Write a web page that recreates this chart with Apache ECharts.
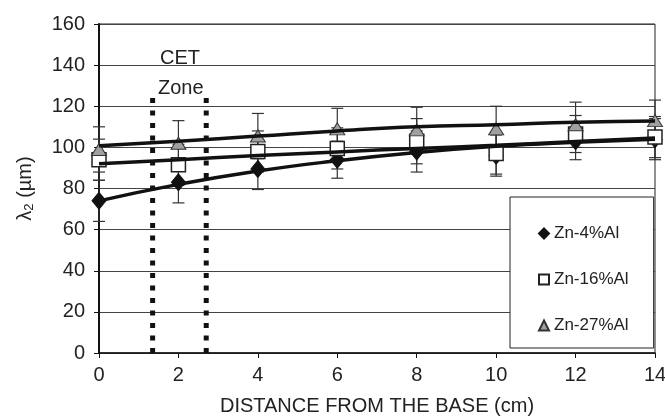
<!DOCTYPE html>
<html>
<head>
<meta charset="utf-8">
<script src="https://cdn.jsdelivr.net/npm/echarts@6/dist/echarts.min.js"></script>
<style>
  html, body { margin: 0; padding: 0; background: #fff; }
  #chart { width: 665px; height: 419px; }
</style>
</head>
<body>
<div id="chart"></div>
<script>
// distance from base (cm)
const distances = [0, 2, 4, 6, 8, 10, 12, 14]

// measured lambda2 (um) and error bars
const zn4 = [74, 83, 89.5, 94, 98, 96, 103, 104]
const zn4Err = [10, 10, 10, 9, 10, 10, 9, 10]
const zn16 = [94, 91.5, 98, 99.5, 103, 97, 106.5, 105]
const zn16Err = [10, 10, 10, 10, 11, 10, 9, 10]
const zn27 = [99, 102, 105.5, 109, 108.5, 109, 111, 113]
const zn27Err = [11, 11, 11, 10, 11, 11, 11, 10]

// trend lines
const trend4 = [74, 82, 88.5, 93.5, 97.5, 100.5, 102.5, 104]
const trend16 = [92, 94, 96, 97.8, 99.5, 101, 102.8, 104.5]
const trend27 = [100.8, 103, 105.5, 108, 110, 111, 112.2, 112.8]

// CET zone limits
const cetZone = [1.35, 2.7]
const cetTop = 125

const FONT = 'Liberation Sans, Arial, sans-serif'

const chart = echarts.init(document.getElementById('chart'))

function errorSeries(vals, errs) {
  return {
    type: 'custom',
    z: 1,
    clip: false,
    silent: true,
    renderItem(params, api) {
      const x = api.value(0)
      const y = api.value(1)
      const e = api.value(2)
      const top = api.coord([x, y + e])
      const bot = api.coord([x, y - e])
      const half = 6
      const style = { stroke: '#333', lineWidth: 1.2 }
      return {
        type: 'group',
        children: [
          { type: 'line', shape: { x1: top[0], y1: top[1], x2: bot[0], y2: bot[1] }, style },
          { type: 'line', shape: { x1: top[0] - half, y1: top[1], x2: top[0] + half, y2: top[1] }, style },
          { type: 'line', shape: { x1: bot[0] - half, y1: bot[1], x2: bot[0] + half, y2: bot[1] }, style }
        ]
      }
    },
    data: distances.map((d, i) => [d, vals[i], errs[i]])
  }
}

function trendSeries(vals) {
  return {
    type: 'line',
    z: 4,
    smooth: true,
    showSymbol: false,
    silent: true,
    lineStyle: { color: '#111', width: 3.5 },
    data: distances.map((d, i) => [d, vals[i]])
  }
}

function cetLine(x) {
  return {
    type: 'line',
    z: 3,
    showSymbol: false,
    silent: true,
    lineStyle: { color: '#111', width: 5, type: [5, 7.5], cap: 'butt' },
    data: [[x, 0], [x, cetTop]]
  }
}

chart.setOption({
  animation: false,
  textStyle: { fontFamily: FONT },
  grid: {
    left: 99, right: 10, top: 24, bottom: 66,
    outerBoundsMode: 'none',
    show: true, borderColor: '#222', borderWidth: 1
  },
  legend: {
    data: ['Zn-4%Al', 'Zn-16%Al', 'Zn-27%Al'],
    orient: 'vertical',
    left: 510,
    top: 197,
    itemWidth: 10,
    itemHeight: 10,
    itemGap: 29,
    padding: [28, 25, 14, 28],
    backgroundColor: '#fff',
    borderColor: '#222',
    borderWidth: 1,
    textStyle: { fontSize: 17, color: '#222', fontFamily: FONT }
  },
  xAxis: {
    type: 'value',
    min: 0,
    max: 14,
    interval: 2,
    name: 'DISTANCE FROM THE BASE (cm)',
    nameLocation: 'middle',
    nameGap: 43,
    nameTextStyle: { fontSize: 20, color: '#222', fontFamily: FONT },
    axisLine: { onZero: false, lineStyle: { color: '#111', width: 1.5 } },
    axisTick: { show: true, length: 5, lineStyle: { color: '#111' } },
    axisLabel: { fontSize: 20, color: '#222', margin: 12 },
    splitLine: { show: false }
  },
  yAxis: {
    type: 'value',
    min: 0,
    max: 160,
    interval: 20,
    name: '{a|λ}{s|2}{a| (µm)}',
    nameLocation: 'middle',
    nameGap: 63,
    nameTextStyle: {
      rich: {
        a: { fontSize: 20, color: '#222', fontFamily: FONT },
        s: { fontSize: 13, color: '#222', fontFamily: FONT, verticalAlign: 'bottom', padding: [8, 0, 0, 0] }
      }
    },
    axisLine: { show: true, lineStyle: { color: '#111', width: 2 } },
    axisTick: { show: true, length: 5, lineStyle: { color: '#111' } },
    axisLabel: { fontSize: 20, color: '#222', margin: 14 },
    splitLine: { lineStyle: { color: '#444', width: 1 } }
  },
  graphic: [
    { type: 'text', left: 160, top: 48, style: { text: 'CET', font: '20px ' + FONT, fill: '#222' } },
    { type: 'text', left: 158, top: 78, style: { text: 'Zone', font: '20px ' + FONT, fill: '#222' } }
  ],
  series: [
    cetLine(cetZone[0]),
    cetLine(cetZone[1]),
    errorSeries(zn4, zn4Err),
    errorSeries(zn16, zn16Err),
    errorSeries(zn27, zn27Err),
    {
      name: 'Zn-4%Al',
      type: 'scatter',
      z: 2,
      clip: false,
      symbol: 'diamond',
      symbolSize: [14, 17],
      itemStyle: { color: '#111', borderColor: '#111', borderWidth: 1, opacity: 1 },
      data: distances.map((d, i) => [d, zn4[i]])
    },
    {
      name: 'Zn-16%Al',
      type: 'scatter',
      z: 2,
      clip: false,
      symbol: 'rect',
      symbolSize: 14,
      itemStyle: { color: '#fff', borderColor: '#222', borderWidth: 1.5, opacity: 1 },
      data: distances.map((d, i) => [d, zn16[i]])
    },
    {
      name: 'Zn-27%Al',
      type: 'scatter',
      z: 2,
      clip: false,
      symbol: 'triangle',
      symbolSize: [15, 12],
      itemStyle: { color: '#a0a0a0', borderColor: '#333', borderWidth: 1, opacity: 1 },
      data: distances.map((d, i) => [d, zn27[i]])
    },
    trendSeries(trend4),
    trendSeries(trend16),
    trendSeries(trend27)
  ]
})
</script>
</body>
</html>
